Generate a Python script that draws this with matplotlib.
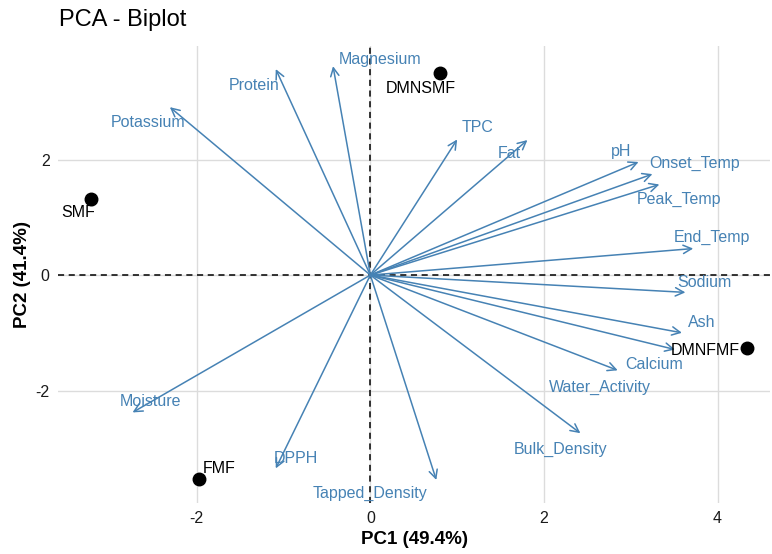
import matplotlib.pyplot as plt
from matplotlib.patches import FancyArrowPatch

# =====================================================
# data
# =====================================================
samples = ["DMNSMF", "SMF", "DMNFMF", "FMF"]
sample_pc1 = [0.80, -3.22, 4.34, -1.97]
sample_pc2 = [3.50, 1.32, -1.27, -3.54]

variables = ["Magnesium", "Protein", "Potassium", "TPC", "Fat", "pH",
             "Onset_Temp", "Peak_Temp", "End_Temp", "Sodium", "Ash",
             "Calcium", "Water_Activity", "Bulk_Density", "Tapped_Density",
             "DPPH", "Moisture"]
var_pc1 = [-0.43, -1.09, -2.31, 1.00, 1.81, 3.09, 3.25, 3.33, 3.72,
           3.63, 3.59, 3.51, 2.85, 2.42, 0.76, -1.09, -2.74]
var_pc2 = [3.62, 3.57, 2.91, 2.35, 2.34, 1.96, 1.75, 1.57, 0.46,
           -0.30, -1.00, -1.29, -1.65, -2.74, -3.55, -3.35, -2.38]

x_label = "PC1 (49.4%)"
y_label = "PC2 (41.4%)"
title = "PCA - Biplot"
# =====================================================

ARROW_COLOR = "#4682B4"

# label offsets in pixels (repelled positions)
var_offsets = {
    "Magnesium": (47, 7), "Protein": (-22, -16), "Potassium": (-22, -15),
    "TPC": (20, 12), "Fat": (-18, -13), "pH": (-17, 10),
    "Onset_Temp": (42, 11), "Peak_Temp": (20, -15), "End_Temp": (19, 11),
    "Sodium": (19, 10), "Ash": (20, 10), "Calcium": (-21, -15),
    "Water_Activity": (-18, -17), "Bulk_Density": (-20, -16),
    "Tapped_Density": (-66, -13), "DPPH": (20, 10), "Moisture": (18, 11),
}
sample_offsets = {
    "DMNSMF": (-19, -15), "SMF": (-13, -14), "DMNFMF": (-42, -2), "FMF": (20, 11),
}

plt.rcParams["font.family"] = ["Liberation Sans", "DejaVu Sans"]
plt.rcParams["axes.unicode_minus"] = False

fig = plt.figure(figsize=(7.72, 5.54), dpi=100)
ax = fig.add_axes([0.075, 0.092, 0.923, 0.825])

ax.set_xlim(-3.6, 4.61)
ax.set_ylim(-3.95, 3.97)

ax.set_xticks([-2, 0, 2, 4])
ax.set_yticks([-2, 0, 2])
ax.grid(True, color="#dcdcdc", linewidth=1.0)
ax.set_axisbelow(True)
for s in ax.spines.values():
    s.set_visible(False)
ax.tick_params(length=0, labelsize=11.5, labelcolor="#1a1a1a", pad=6)

ax.axhline(0, color="black", linestyle="--", linewidth=1.1, dashes=(4, 3))
ax.axvline(0, color="black", linestyle="--", linewidth=1.1, dashes=(4, 3))

for name, x, y in zip(variables, var_pc1, var_pc2):
    arr = FancyArrowPatch(
        (0, 0), (x, y),
        arrowstyle="->,head_length=0.6,head_width=0.3",
        mutation_scale=10,
        color=ARROW_COLOR,
        linewidth=1.1,
        shrinkA=0, shrinkB=0,
        zorder=3,
    )
    ax.add_patch(arr)
    dx, dy = var_offsets[name]
    ax.annotate(name, (x, y), xytext=(dx, dy), textcoords="offset pixels",
                ha="center", va="center", color=ARROW_COLOR, fontsize=11.5,
                zorder=4)

ax.plot(sample_pc1, sample_pc2, "o", color="black", markersize=9, zorder=5)
for name, x, y in zip(samples, sample_pc1, sample_pc2):
    dx, dy = sample_offsets[name]
    ax.annotate(name, (x, y), xytext=(dx, dy), textcoords="offset pixels",
                ha="center", va="center", color="black", fontsize=11.5,
                zorder=6)

ax.set_xlabel(x_label, fontsize=13.5, fontweight="bold", labelpad=3)
ax.set_ylabel(y_label, fontsize=13.5, fontweight="bold", labelpad=3)
fig.text(0.076, 0.963, title, fontsize=17, ha="left", va="center")

fig.savefig("out.png", dpi=100)
